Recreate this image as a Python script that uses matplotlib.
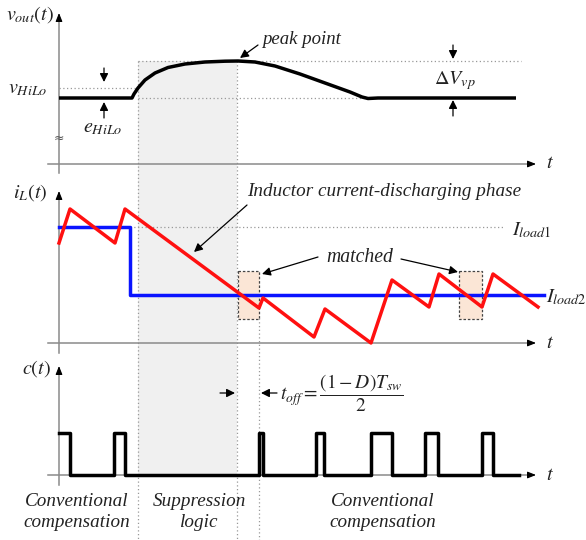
import matplotlib
matplotlib.use("Agg")
import matplotlib.pyplot as plt
from matplotlib.patches import Rectangle

plt.rcParams["font.family"] = ["Liberation Serif", "DejaVu Serif"]
plt.rcParams["mathtext.fontset"] = "stix"
plt.rcParams["text.color"] = "#222222"

# waveform data (time in px along the figure, level in px from top)
vout_t = [59, 132, 134, 138, 145, 155, 168, 185, 205, 225, 238, 255, 275, 300, 325, 350, 362, 368, 378, 516]
vout_v = [98, 98, 94, 88, 80, 73, 67.5, 64, 62, 61.2, 61, 62, 66, 74, 83, 92, 97, 98.5, 98, 98]

il_t = [59, 70, 115, 125, 259, 263, 314, 325, 371, 392, 429, 439, 482, 493, 538]
il_v = [243, 209, 243, 209, 308, 298, 337, 309, 343, 280, 307, 274, 307, 274, 307]

iload_t = [59, 130, 130, 544]
iload_v = [227, 227, 295, 295]

pulse_on = [59, 114, 259, 316, 371, 425, 482]
pulse_off = [70, 125, 263, 324, 392, 438, 493]
c_low, c_high = 475, 433

matched_x = [238, 459]
matched_w = [21, 23]

fig = plt.figure(figsize=(5.86, 5.40), dpi=100)
ax = fig.add_axes([0, 0, 1, 1])
ax.set_xlim(0, 586)
ax.set_ylim(540, 0)
ax.axis("off")

GRAY = "#8a8a8a"
DOT = dict(color="#999999", lw=0.9, ls=(0, (1, 2)))


def arrow(x1, y1, x2, y2, lw=0.9, hw=0.25):
    ax.annotate("", xy=(x2, y2), xytext=(x1, y1),
                arrowprops=dict(arrowstyle="-|>,head_length=0.5,head_width=%s" % hw,
                                color="black", lw=lw, shrinkA=0, shrinkB=0))


def axis_v(x, y0, y1):
    ax.plot([x, x], [y0, y1 + 4], color=GRAY, lw=1.1)
    ax.annotate("", xy=(x, y1), xytext=(x, y1 + 6),
                arrowprops=dict(arrowstyle="-|>,head_length=0.5,head_width=0.2",
                                color="black", lw=0.8, shrinkA=0, shrinkB=0))


def axis_h(y, x0, x1):
    ax.plot([x0, x1 - 4], [y, y], color=GRAY, lw=1.1)
    ax.annotate("", xy=(x1, y), xytext=(x1 - 6, y),
                arrowprops=dict(arrowstyle="-|>,head_length=0.5,head_width=0.2",
                                color="black", lw=0.8, shrinkA=0, shrinkB=0))
    ax.text(x1 + 14, y, "$t$", fontsize=14.5, ha="center", va="center")


# suppression shade
ax.add_patch(Rectangle((138, 61), 99, c_low - 61, facecolor="#f0f0f0", edgecolor="none", zorder=0))
ax.plot([138, 138], [61, 540], **DOT)
ax.plot([237, 237], [61, 540], **DOT)
ax.plot([259, 259], [318, 540], **DOT)

# axes
axis_v(59, 173, 13)
axis_h(164, 48, 536)
axis_v(59, 353, 191)
axis_h(343, 48, 536)
axis_v(59, 485, 366)
axis_h(c_low, 48, 536)

# top panel: vout
ax.plot([138, 521], [61, 61], **DOT)
ax.plot([59, 138], [88, 88], **DOT)
ax.plot([138, 372], [98, 98], **DOT)
ax.plot(vout_t, vout_v, color="black", lw=2.5, solid_capstyle="butt", zorder=3)
ax.text(30, 15, r"$v_{out}(t)$", fontsize=14.5, ha="center", va="center")
ax.text(28, 89, r"$v_{HiLo}$", fontsize=14.5, ha="center", va="center")
ax.text(103, 128, r"$e_{HiLo}$", fontsize=14.5, ha="center", va="center")
ax.text(59, 138, "≈", fontsize=9, ha="center", va="center", color="#555555",
        family="DejaVu Sans")
arrow(104, 68, 104, 82)
arrow(104, 118, 104, 102)
ax.text(302, 40, "peak point", fontsize=13.5, style="italic", ha="center", va="center")
arrow(258, 45, 240, 58)
ax.text(455, 81, r"$\Delta V_{vp}$", fontsize=14.5, ha="center", va="center")
arrow(453, 45, 453, 59)
arrow(453, 116, 453, 100)

# middle panel: inductor current
ax.plot([130, 504], [227, 227], **DOT)
for x, w in zip(matched_x, matched_w):
    ax.add_patch(Rectangle((x, 271), w, 48, facecolor="#fbe6d6", edgecolor="#444444",
                           lw=0.9, ls=(0, (2, 1.5)), zorder=1))
ax.plot(iload_t, iload_v, color="#0a14ff", lw=2.5, zorder=2)
ax.plot(il_t, il_v, color="#ff1010", lw=2.5, zorder=3)
ax.text(30, 193, r"$i_L(t)$", fontsize=14.5, ha="center", va="center")
ax.text(532, 230, r"$I_{load\mathit{1}}$", fontsize=14.5, ha="center", va="center")
ax.text(566, 297, r"$I_{load\mathit{2}}$", fontsize=14.5, ha="center", va="center")
ax.text(384, 192, "Inductor current-discharging phase", fontsize=13.8, style="italic",
        ha="center", va="center")
arrow(247, 205, 194, 252)
ax.text(360, 258, "matched", fontsize=14.2, style="italic", ha="center", va="center")
arrow(318, 257, 262, 274)
arrow(401, 259, 458, 272)

# bottom panel: control pulses
cx, cy = [59], [c_high]
for on, off in zip(pulse_on, pulse_off):
    if on > 59:
        cx += [on, on]
        cy += [c_low, c_high]
    cx += [off, off]
    cy += [c_high, c_low]
cx.append(519)
cy.append(c_low)
ax.plot(cx, cy, color="black", lw=2.5, zorder=3)
ax.text(36, 369, r"$c(t)$", fontsize=14.5, ha="center", va="center")
arrow(220, 393, 235, 393)
arrow(277, 393, 261, 393)
ax.text(280, 393, r"$t_{off}=\dfrac{(1-D)T_{sw}}{2}$", fontsize=14, ha="left", va="center")

for x, s in [(77, "Conventional\ncompensation"), (199, "Suppression\nlogic"),
             (383, "Conventional\ncompensation")]:
    ax.text(x, 512, s, fontsize=13.8, style="italic", ha="center", va="center",
            linespacing=1.25)

fig.savefig("out.png", dpi=100, facecolor="white")
